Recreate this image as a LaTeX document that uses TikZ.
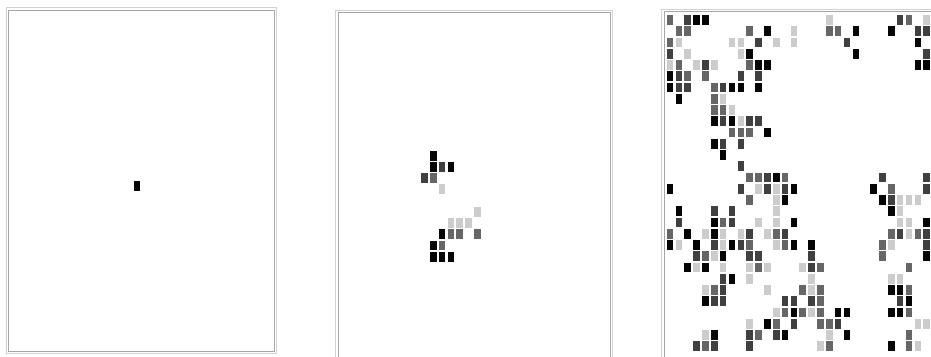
\documentclass[tikz,border=0pt]{standalone}
\usepackage{tikz}

\definecolor{cK}{gray}{0.02}
\definecolor{cD}{gray}{0.25}
\definecolor{cM}{gray}{0.40}
\definecolor{cL}{gray}{0.80}

\begin{document}
\begin{tikzpicture}[
    x=1pt, y=-1pt,
    frameout/.style = {draw=gray!35, line width=1pt},
    framein/.style  = {draw=gray!70, line width=1pt},
    cell/.style     = {line width=0pt}
]
\useasboundingbox (0,0) rectangle (931,356);

% Ramecky panelu
\draw[frameout] (6,7.5)     rectangle (276.5,353.5);
\draw[framein]  (8.5,10)    rectangle (274,351);
\draw[frameout] (335.5,10)  rectangle (612.5,372);
\draw[framein]  (338,12.5)  rectangle (610,369);
\draw[frameout] (661.5,9)   rectangle (950,372);
\draw[framein]  (664,11.5)  rectangle (947,369);

% Panel 1 - jedina bunka
\begin{scope}[shift={(13,17.5)}]
\foreach \c/\r/\s in {14/15/cK}
    \fill[cell, fill=\s] (\c*8.85-3.3, \r*11.25-4.9) rectangle ++(6.6,9.8);
\end{scope}

% Panel 2
\begin{scope}[shift={(344.9,21)}]
\foreach \c/\r/\s in {10/12/cK,
    10/13/cK, 11/13/cD, 12/13/cK,
    9/14/cD, 10/14/cM,
    11/15/cL,
    15/17/cL,
    12/18/cL, 13/18/cL, 14/18/cL,
    11/19/cK, 12/19/cM, 13/19/cM, 15/19/cM,
    10/20/cK, 11/20/cM,
    10/21/cK, 11/21/cK, 12/21/cK}
    \fill[cell, fill=\s] (\c*8.83-3.3, \r*11.22-4.9) rectangle ++(6.6,9.8);
\end{scope}

% Panel 3
\begin{scope}[shift={(670,20)}]
\foreach \c/\r/\s in {
    0/0/cM, 2/0/cD, 3/0/cK, 4/0/cK, 18/0/cL, 26/0/cD, 27/0/cM, 29/0/cL,
    1/1/cM, 2/1/cM, 9/1/cM, 11/1/cK, 14/1/cL, 18/1/cM, 19/1/cM, 21/1/cK, 25/1/cK, 28/1/cD, 29/1/cD,
    0/2/cM, 1/2/cL, 7/2/cL, 8/2/cL, 10/2/cD, 12/2/cL, 14/2/cL, 20/2/cD, 28/2/cK,
    0/3/cD, 2/3/cL, 8/3/cL, 9/3/cK, 21/3/cK, 29/3/cD,
    0/4/cL, 1/4/cM, 3/4/cL, 4/4/cD, 5/4/cL, 9/4/cM, 10/4/cK, 11/4/cK, 28/4/cK, 29/4/cK,
    0/5/cK, 1/5/cD, 2/5/cM, 4/5/cM, 8/5/cD, 10/5/cD,
    0/6/cK, 1/6/cD, 2/6/cD, 5/6/cM, 6/6/cD, 7/6/cK, 8/6/cK, 10/6/cK,
    1/7/cK, 5/7/cM, 6/7/cL,
    5/8/cM, 6/8/cM, 7/8/cL,
    5/9/cK, 6/9/cD, 7/9/cK, 8/9/cL, 9/9/cD, 10/9/cD,
    7/10/cM, 8/10/cM, 9/10/cM, 11/10/cK,
    5/11/cK, 6/11/cD, 8/11/cD,
    6/12/cK,
    8/13/cD,
    9/14/cM, 10/14/cM, 11/14/cD, 12/14/cK, 13/14/cM, 24/14/cD, 29/14/cD,
    0/15/cK, 8/15/cD, 10/15/cL, 11/15/cD, 12/15/cL, 13/15/cD, 14/15/cK, 23/15/cK, 25/15/cM, 29/15/cD,
    9/16/cM, 12/16/cL, 13/16/cK, 24/16/cK, 25/16/cD, 26/16/cL, 27/16/cL, 28/16/cL,
    1/17/cK, 5/17/cD, 7/17/cD, 12/17/cL, 25/17/cK, 26/17/cL,
    1/18/cD, 5/18/cK, 6/18/cM, 7/18/cD, 10/18/cL, 12/18/cL, 14/18/cK, 26/18/cL, 27/18/cL, 29/18/cK,
    0/19/cM, 2/19/cK, 4/19/cL, 5/19/cK, 6/19/cL, 8/19/cL, 9/19/cD, 11/19/cL, 12/19/cM, 13/19/cD,
    25/19/cM, 26/19/cD, 27/19/cL, 28/19/cM, 29/19/cD,
    0/20/cK, 1/20/cL, 3/20/cK, 5/20/cD, 6/20/cL, 7/20/cK, 8/20/cD, 9/20/cM, 12/20/cL, 13/20/cM, 14/20/cK,
    16/20/cK, 24/20/cM, 25/20/cL, 29/20/cD,
    3/21/cD, 4/21/cM, 5/21/cL, 6/21/cK, 9/21/cD, 10/21/cD, 16/21/cD, 24/21/cM, 29/21/cK,
    2/22/cK, 3/22/cL, 4/22/cK, 6/22/cL, 9/22/cL, 10/22/cM, 11/22/cL, 15/22/cL, 16/22/cD, 17/22/cM, 27/22/cM,
    6/23/cD, 7/23/cK, 9/23/cL, 16/23/cL, 25/23/cL, 26/23/cL,
    4/24/cL, 5/24/cM, 6/24/cD, 11/24/cL, 15/24/cM, 16/24/cL, 17/24/cM, 25/24/cK, 26/24/cK, 27/24/cM,
    4/25/cK, 5/25/cD, 6/25/cD, 13/25/cD, 14/25/cD, 16/25/cD, 17/25/cM, 26/25/cD, 27/25/cK,
    12/26/cL, 13/26/cM, 14/26/cK, 15/26/cM, 16/26/cL, 17/26/cM, 19/26/cK, 20/26/cK, 25/26/cK, 26/26/cK, 27/26/cM,
    9/27/cL, 11/27/cK, 12/27/cM, 14/27/cD, 17/27/cM, 18/27/cM, 19/27/cD, 28/27/cL, 29/27/cL,
    4/28/cL, 5/28/cK, 9/28/cD, 10/28/cM, 12/28/cD, 13/28/cK, 18/28/cL, 20/28/cK, 27/28/cM,
    3/29/cD, 4/29/cM, 5/29/cD, 9/29/cD, 17/29/cL, 18/29/cM, 25/29/cK, 27/29/cM, 28/29/cL}
    \fill[cell, fill=\s] (\c*8.85-3.3, \r*11.25-4.9) rectangle ++(6.6,9.8);
\end{scope}

\end{tikzpicture}
\end{document}
